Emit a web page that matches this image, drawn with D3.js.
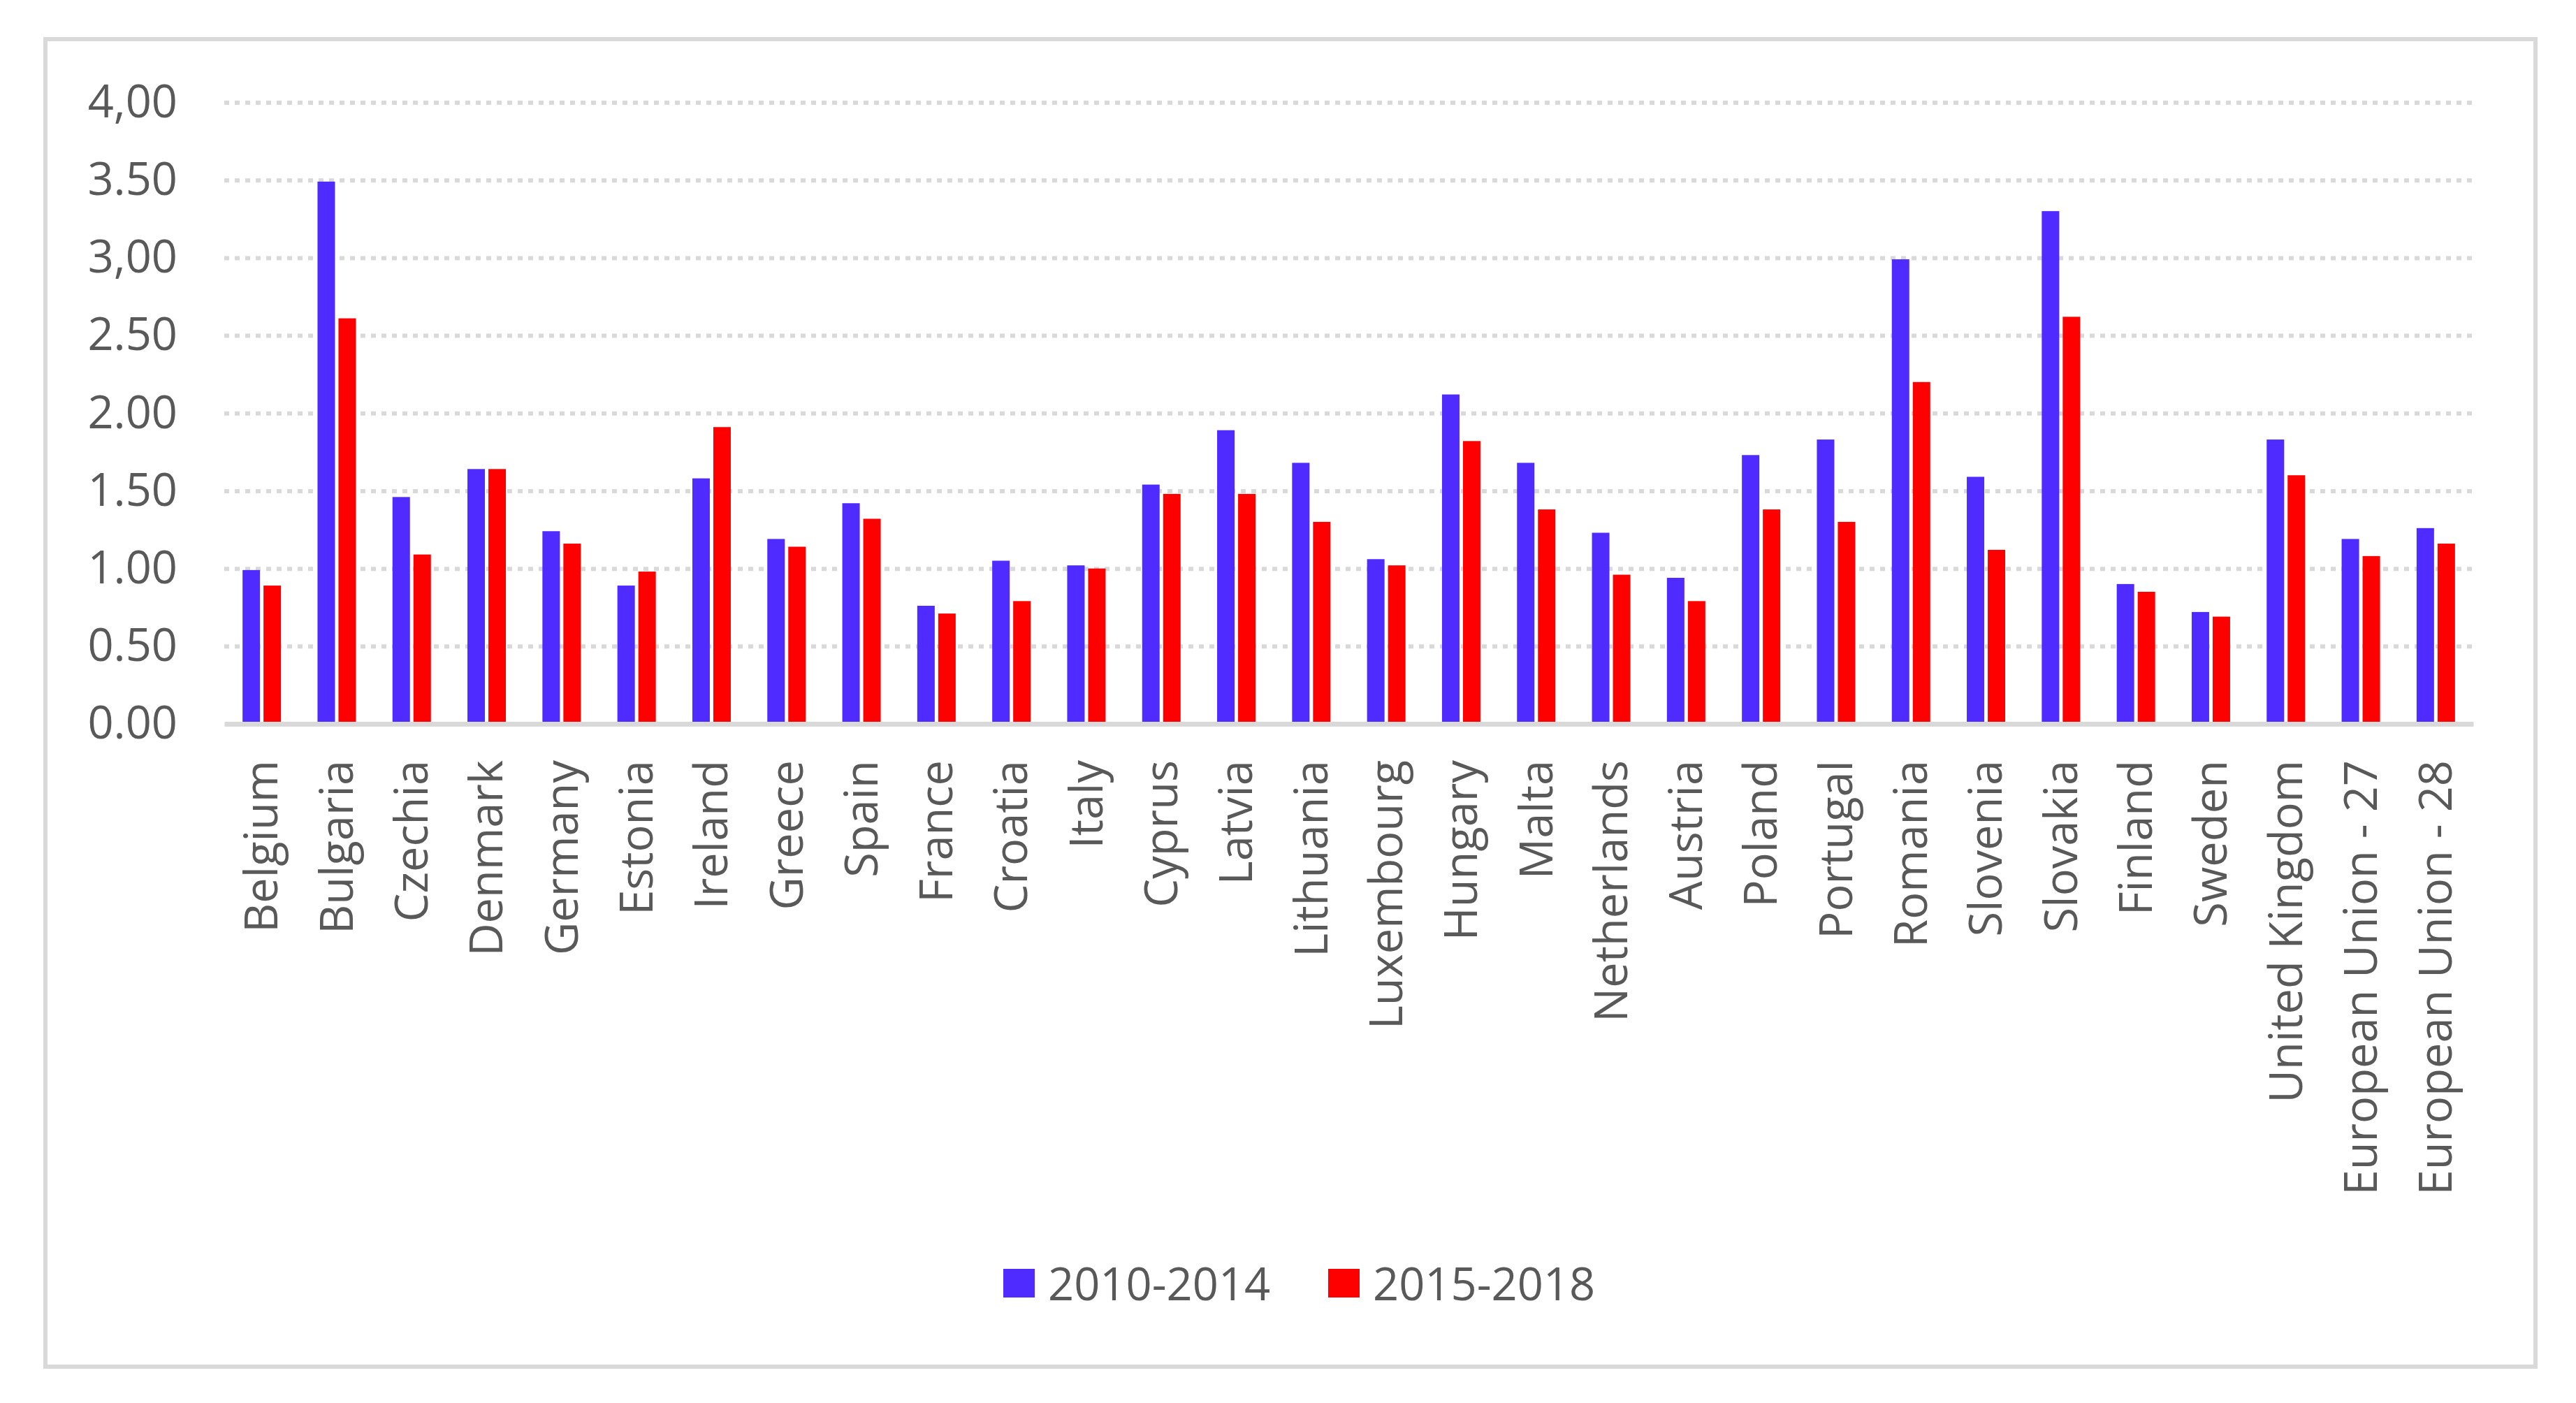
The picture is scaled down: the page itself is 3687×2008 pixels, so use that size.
<!DOCTYPE html>
<html>
<head>
<meta charset="utf-8">
<script src="https://cdn.jsdelivr.net/npm/d3@7"></script>
<style>
  body { margin: 0; background: #fff; }
  text { font-family: "Open Sans", sans-serif; fill: #595959; }
</style>
</head>
<body>
<svg width="3687" height="2008"></svg>
<script>
const categories = [
  "Belgium", "Bulgaria", "Czechia", "Denmark", "Germany", "Estonia", "Ireland",
  "Greece", "Spain", "France", "Croatia", "Italy", "Cyprus", "Latvia", "Lithuania",
  "Luxembourg", "Hungary", "Malta", "Netherlands", "Austria", "Poland", "Portugal",
  "Romania", "Slovenia", "Slovakia", "Finland", "Sweden", "United Kingdom",
  "European Union - 27", "European Union - 28"
];
const seriesNames = ["2010-2014", "2015-2018"];
const values2010 = [
  0.99, 3.49, 1.46, 1.64, 1.24, 0.89, 1.58, 1.19, 1.42, 0.76, 1.05, 1.02, 1.54, 1.89, 1.68,
  1.06, 2.12, 1.68, 1.23, 0.94, 1.73, 1.83, 2.99, 1.59, 3.30, 0.90, 0.72, 1.83, 1.19, 1.26
];
const values2015 = [
  0.89, 2.61, 1.09, 1.64, 1.16, 0.98, 1.91, 1.14, 1.32, 0.71, 0.79, 1.00, 1.48, 1.48, 1.30,
  1.02, 1.82, 1.38, 0.96, 0.79, 1.38, 1.30, 2.20, 1.12, 2.62, 0.85, 0.69, 1.60, 1.08, 1.16
];
const yTicks = [0, 0.5, 1, 1.5, 2, 2.5, 3, 3.5, 4];
const yTickLabels = ["0.00", "0.50", "1.00", "1.50", "2.00", "2.50", "3,00", "3.50", "4,00"];
const colors = ["#4f2bff", "#ff0000"];

const svg = d3.select("svg");
const fontSize = 65;

// chart area border
svg.append("rect")
  .attr("x", 65).attr("y", 56)
  .attr("width", 3564).attr("height", 1900)
  .attr("fill", "#fff")
  .attr("stroke", "#d9d9d9")
  .attr("stroke-width", 6);

const x0 = d3.scaleBand().domain(categories).range([321, 3540]).padding(0);
const x1 = d3.scaleBand().domain(seriesNames).range([0, x0.bandwidth()])
  .paddingInner(0.1667).paddingOuter(0.872);
const y = d3.scaleLinear().domain([0, 4]).range([1036, 146.5]);

// gridlines
const grid = svg.append("g")
  .attr("transform", "translate(321,0)")
  .call(d3.axisLeft(y).tickValues(yTicks.slice(1)).tickSize(-(3540 - 321)).tickFormat(""));
grid.select(".domain").remove();
grid.selectAll("line")
  .attr("stroke", "#d9d9d9")
  .attr("stroke-width", 6)
  .attr("stroke-dasharray", "7 8");

// y labels
const yAxis = svg.append("g")
  .attr("transform", "translate(254,0)")
  .call(d3.axisLeft(y).tickValues(yTicks).tickSize(0).tickPadding(0)
    .tickFormat((d, i) => yTickLabels[i]));
yAxis.select(".domain").remove();
yAxis.selectAll("text")
  .attr("font-size", fontSize)
  .attr("font-family", "Open Sans")
  .attr("fill", "#595959");

// bars
const rows = categories.map((c, i) => ({ c, vals: [values2010[i], values2015[i]] }));
const groups = svg.append("g").selectAll("g")
  .data(rows)
  .enter().append("g")
  .attr("transform", d => `translate(${x0(d.c)},0)`);

groups.selectAll("rect")
  .data(d => d.vals.map((v, j) => ({ s: seriesNames[j], v, j })))
  .enter().append("rect")
  .attr("x", d => x1(d.s))
  .attr("width", x1.bandwidth())
  .attr("y", d => y(d.v))
  .attr("height", d => y(0) - y(d.v))
  .attr("fill", d => colors[d.j]);

// x axis
const xAxis = svg.append("g")
  .attr("transform", `translate(0,${y(0)})`)
  .call(d3.axisBottom(x0).tickSize(0).tickPadding(0));
xAxis.select(".domain")
  .attr("stroke", "#d9d9d9")
  .attr("stroke-width", 7);
xAxis.selectAll("text")
  .attr("font-size", fontSize)
  .attr("font-family", "Open Sans")
  .attr("fill", "#595959")
  .attr("text-anchor", "end")
  .attr("transform", "rotate(-90)")
  .attr("x", -52)
  .attr("y", 0)
  .attr("dy", "0.35em");

// legend
const legend = svg.append("g");
const legendX = [1436, 1901];
seriesNames.forEach((s, i) => {
  legend.append("rect")
    .attr("x", legendX[i]).attr("y", 1816)
    .attr("width", 45).attr("height", 41)
    .attr("fill", colors[i]);
  legend.append("text")
    .attr("x", legendX[i] + 64).attr("y", 1861)
    .attr("font-size", fontSize)
    .text(s);
});
</script>
</body>
</html>
